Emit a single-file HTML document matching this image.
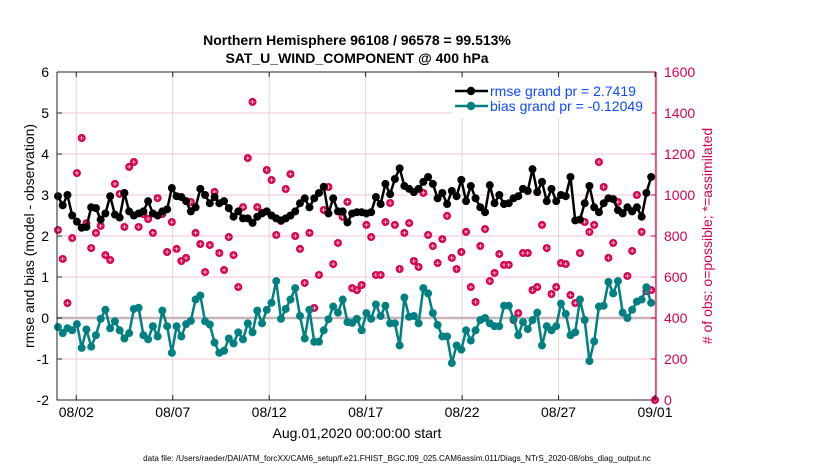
<!DOCTYPE html>
<html><head><meta charset="utf-8"><style>
body{margin:0;background:#fff;font-family:"Liberation Sans",sans-serif}
svg text{font-family:"Liberation Sans",sans-serif}
</style></head><body>
<svg id="chart" width="830" height="470" viewBox="0 0 830 470" xmlns="http://www.w3.org/2000/svg">
<rect width="830" height="470" fill="#fff"/>
<text x="357" y="45" text-anchor="middle" font-size="14" font-weight="bold">Northern Hemisphere 96108 / 96578 = 99.513%</text>
<text x="357" y="63" text-anchor="middle" font-size="14" font-weight="bold">SAT_U_WIND_COMPONENT @ 400 hPa</text>
<g id="grid"></g><g id="marks"></g><g id="axes"></g>
<text x="357" y="438" text-anchor="middle" font-size="14">Aug.01,2020 00:00:00 start</text>
<text transform="translate(34,236) rotate(-90)" text-anchor="middle" font-size="14">rmse and bias (model - observation)</text>
<text transform="translate(712,236) rotate(-90)" text-anchor="middle" font-size="14" fill="#d6004f"># of obs: o=possible; *=assimilated</text>
<text x="397" y="461" text-anchor="middle" font-size="8.1">data file: /Users/raeder/DAI/ATM_forcXX/CAM6_setup/f.e21.FHIST_BGC.f09_025.CAM6assim.011/Diags_NTrS_2020-08/obs_diag_output.nc</text>
<g>
<rect x="452" y="78" width="200" height="40" fill="#fff"/>
<line x1="455" y1="91" x2="488" y2="91" stroke="#000" stroke-width="2.5"/><circle cx="471" cy="91" r="4.2" fill="#000"/>
<text x="490" y="96" font-size="14" fill="#0d47ff">rmse grand pr = 2.7419</text>
<line x1="455" y1="106" x2="488" y2="106" stroke="#008080" stroke-width="2.5"/><circle cx="471" cy="106" r="4.2" fill="#008080"/>
<text x="490" y="111" font-size="14" fill="#0d47ff">bias grand pr = -0.12049</text>
</g>
</svg>
<script>
const rmse=[2.97,2.75,3.0,2.5,2.35,2.2,2.22,2.7,2.68,2.4,2.55,2.97,2.52,2.45,3.05,2.6,2.5,2.55,2.6,2.85,2.55,2.5,2.6,2.65,3.17,2.97,2.95,2.85,2.6,2.7,3.15,3.0,
2.8,2.95,2.8,2.85,2.68,2.47,2.6,2.43,2.43,2.32,2.47,2.55,2.6,2.5,2.43,2.38,2.43,2.5,2.6,2.8,2.92,2.7,2.92,3.05,3.2,2.55,2.92,2.6,2.6,2.33,2.55,
2.58,2.58,2.55,2.58,2.95,2.78,3.27,3.02,3.39,3.65,3.22,3.15,3.07,3.15,3.32,3.44,3.27,2.92,3.05,2.78,3.1,2.97,3.37,2.85,3.22,2.92,2.7,2.58,3.24,2.8,3.0,2.78,
2.8,2.92,2.97,3.15,3.1,3.63,3.07,3.32,2.85,3.15,2.85,3.0,2.97,3.44,2.38,2.4,2.8,3.22,2.7,2.58,2.8,2.92,2.9,2.63,2.55,2.7,2.6,2.7,2.47,3.05,3.44];
const bias=[-0.22,-0.37,-0.25,-0.3,-0.15,-0.73,-0.28,-0.7,-0.42,-0.02,0.2,-0.25,-0.08,-0.3,-0.5,-0.37,0.22,0.25,-0.42,-0.52,-0.2,-0.45,0.18,-0.2,-0.85,-0.2,-0.45,-0.15,-0.07,0.45,0.55,-0.08,
-0.16,-0.6,-0.85,-0.8,-0.5,-0.62,-0.35,-0.52,-0.13,-0.35,0.18,-0.13,0.2,0.37,0.9,-0.02,0.22,0.45,0.73,0.05,-0.5,0.2,-0.58,-0.58,-0.3,-0.03,0.28,0.13,0.45,-0.1,-0.12,
-0.02,-0.3,0.12,-0.02,0.33,0.05,0.3,-0.13,-0.13,-0.67,0.5,0.03,0.05,-0.13,0.73,0.6,0.12,-0.17,-0.45,-0.45,-1.1,-0.67,-0.77,-0.3,-0.55,-0.3,-0.05,0,-0.13,-0.2,-0.2,0.3,
0.3,-0.02,-0.42,-0.1,-0.27,-0.05,0.13,-0.67,-0.2,-0.3,-0.2,0.35,0.1,-0.42,-0.35,0.45,-0.05,-1.05,-0.57,0.28,0.3,0.88,0.6,0.9,0.13,0,0.2,0.4,0.45,0.75,0.37];
const obs=[829,688,473,790,1107,1278,863,741,815,849,707,683,1054,1005,844,1137,1161,844,907,883,815,985,907,722,868,737,678,693,966,815,761,624,
756,1015,717,634,795,707,551,941,1180,1454,941,914,1122,1073,805,873,1029,1102,800,737,571,815,449,610,927,1039,663,766,893,966,546,
536,561,854,795,610,610,868,961,854,639,815,863,678,649,1010,805,751,668,785,898,693,639,722,820,551,478,751,834,580,620,712,659,
659,390,424,717,717,536,551,854,741,517,551,668,663,512,473,717,868,820,854,1161,1039,693,766,966,912,605,727,1000,820,531,536];
const finalObs=0;
const xTickLabels=["08/02","08/07","08/12","08/17","08/22","08/27","09/01"];
const xTickDays=[1,6,11,16,21,26,31];
const yLeftTicks=[-2,-1,0,1,2,3,4,5,6];
const yRightTicks=[0,200,400,600,800,1000,1200,1400,1600];

const X0=57,X1=655,Y0=72,Y1=400;
const xS=d=>X0+d/31*(X1-X0);
const yL=v=>Y1-(v+2)/8*(Y1-Y0);
const yR=v=>Y1-v/1600*(Y1-Y0);
const NS="http://www.w3.org/2000/svg";
function mk(parent,tag,attrs){const e=document.createElementNS(NS,tag);for(const k in attrs)e.setAttribute(k,attrs[k]);parent.appendChild(e);return e;}
const grid=document.getElementById('grid'),marks=document.getElementById('marks'),axes=document.getElementById('axes');
const n=rmse.length;const dayOf=i=>0.05+i*30.75/(n-1);

yLeftTicks.forEach(v=>{if(v>-2&&v<6&&v!==0){const l=mk(grid,'line',{x1:X0,x2:X1,y1:yL(v),y2:yL(v),stroke:'#f3c6d6','stroke-width':1});

}});
xTickDays.forEach(d=>{const l=mk(grid,'line',{x1:xS(d),x2:xS(d),y1:Y0,y2:Y1,stroke:'#d8d8d8','stroke-width':1});

});
const z=mk(grid,'line',{x1:X0,x2:X1,y1:yL(0),y2:yL(0),stroke:'#c8b4b8','stroke-width':2.5});



function obsMark(x,y){const g=mk(marks,'g',{});


mk(g,'circle',{cx:x,cy:y,r:4,fill:'#d6004f'});
mk(g,'path',{d:`M${x-2.2},${y}h4.4M${x},${y-2.2}v4.4`,stroke:'#fff','stroke-width':0.6});}
obs.forEach((v,i)=>obsMark(xS(dayOf(i)),yR(v)));
obsMark(xS(31),yR(finalObs));

function series(vals,color,name){
 const p=mk(marks,'polyline',{points:vals.map((v,i)=>xS(dayOf(i))+','+yL(v)).join(' '),fill:'none',stroke:color,'stroke-width':2.5,'stroke-linejoin':'round'});
 
 
 vals.forEach((v,i)=>{const c=mk(marks,'circle',{cx:xS(dayOf(i)),cy:yL(v),r:4,fill:color});
 
 });
}
series(bias,'#008080','bias');
series(rmse,'#000','rmse');

const fr=mk(axes,'path',{d:`M${X0},${Y0}V${Y1}H${X1+1}M${X0},${Y0}H${X1+1}`,stroke:'#222',fill:'none','stroke-width':1});


const ra=mk(axes,'line',{x1:X1+1,x2:X1+1,y1:Y0,y2:Y1,stroke:'#d6004f','stroke-width':1.2});


yLeftTicks.forEach(v=>{const t=mk(axes,'text',{x:X0-8,y:yL(v)+5,'text-anchor':'end','font-size':14});t.textContent=v;


mk(axes,'line',{x1:X0,x2:X0+5,y1:yL(v),y2:yL(v),stroke:'#222'});});
yRightTicks.forEach(v=>{const t=mk(axes,'text',{x:X1+9,y:yR(v)+5,'font-size':14,fill:'#d6004f'});t.textContent=v;


mk(axes,'line',{x1:X1-4,x2:X1+1,y1:yR(v),y2:yR(v),stroke:'#d6004f'});});
xTickDays.forEach((d,i)=>{const t=mk(axes,'text',{x:xS(d),y:Y1+17,'text-anchor':'middle','font-size':14});t.textContent=xTickLabels[i];


mk(axes,'line',{x1:xS(d),x2:xS(d),y1:Y1,y2:Y1-5,stroke:'#222'});
mk(axes,'line',{x1:xS(d),x2:xS(d),y1:Y0,y2:Y0+5,stroke:'#222'});});
</script>
</body></html>
